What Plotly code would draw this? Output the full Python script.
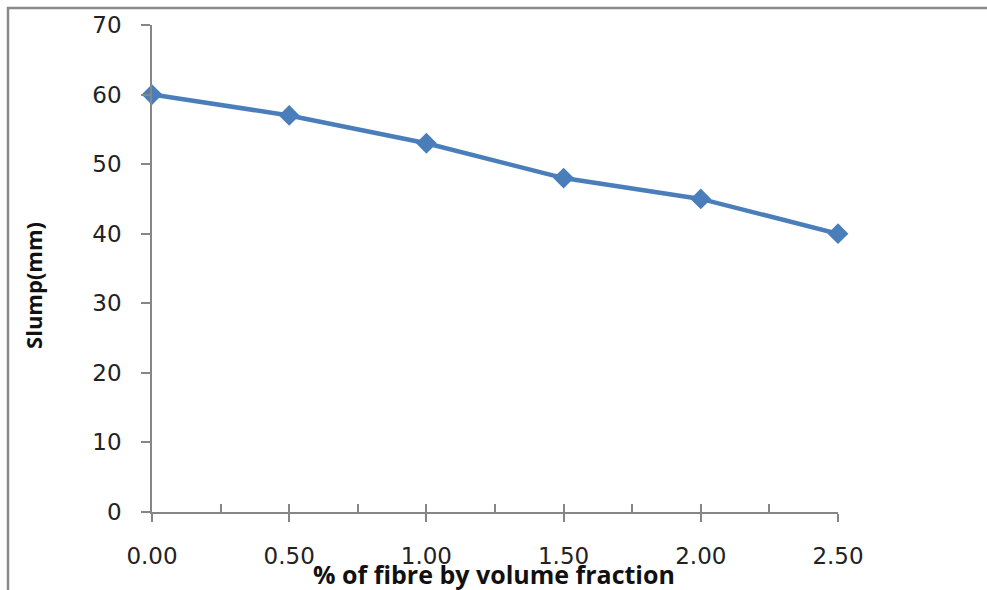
import plotly.graph_objects as go

# Slump test results for increasing fibre content
fibre_pct = [0.0, 0.5, 1.0, 1.5, 2.0, 2.5]
slump_mm = [60, 57, 53, 48, 45, 40]

W, H = 987, 590
L, R, T, B = 152, 149, 23, 78
pw, ph = W - L - R, H - T - B

def px(x):
    return (x - L) / pw

def py(y):
    return (H - B - y) / ph

blue = "#4a7ebb"
axis_grey = "#868686"
tick_font = dict(family="DejaVu Sans", size=23, color="#222222")

fig = go.Figure()
fig.add_trace(go.Scatter(
    x=fibre_pct, y=slump_mm, mode="lines+markers",
    line=dict(color=blue, width=4.5),
    marker=dict(symbol="diamond", size=16, color=blue),
    cliponaxis=False, showlegend=False, hoverinfo="x+y",
))
# invisible trace to carry the inner tick axis
fig.add_trace(go.Scatter(x=fibre_pct, y=slump_mm, xaxis="x2", mode="none",
                         showlegend=False, hoverinfo="skip"))

fig.update_layout(
    width=W, height=H,
    margin=dict(l=L, r=R, t=T, b=B),
    paper_bgcolor="white", plot_bgcolor="white",
    xaxis=dict(
        range=[0, 2.5], tickvals=fibre_pct, tickformat=".2f",
        showgrid=False, zeroline=False, showline=True,
        linecolor=axis_grey, linewidth=1.5,
        ticks="outside", ticklen=8, tickwidth=1.5, tickcolor=axis_grey,
        tickfont=tick_font, ticklabelstandoff=15,
    ),
    xaxis2=dict(
        range=[0, 2.5], overlaying="x", anchor="y", side="bottom",
        dtick=0.25, tick0=0, showticklabels=False,
        showgrid=False, zeroline=False, showline=False,
        ticks="inside", ticklen=8, tickwidth=1.5, tickcolor=axis_grey,
    ),
    yaxis=dict(
        range=[0, 70], dtick=10, tick0=0,
        showgrid=False, zeroline=False, showline=True,
        linecolor=axis_grey, linewidth=1.5,
        ticks="outside", ticklen=9, tickwidth=1.5, tickcolor=axis_grey,
        tickfont=tick_font, ticklabelstandoff=15,
    ),
    shapes=[
        dict(type="rect", xref="paper", yref="paper",
             x0=px(8), x1=px(W + 20), y0=py(H + 20), y1=py(6),
             line=dict(color="#8a8a8a", width=2.5), fillcolor="rgba(0,0,0,0)",
             layer="below"),
    ],
    annotations=[
        dict(text="<b>% of fibre by volume fraction</b>", xref="paper", yref="paper",
             x=px(494), y=py(574), xanchor="center", yanchor="middle",
             showarrow=False, font=dict(family="Open Sans", size=25, color="#111111")),
        dict(text="<b>Slump(mm)</b>", xref="paper", yref="paper",
             x=px(33), y=py(285), xanchor="center", yanchor="middle", textangle=-90,
             showarrow=False, font=dict(family="Open Sans", size=22, color="#111111")),
    ],
)

fig.write_html("out.html")
